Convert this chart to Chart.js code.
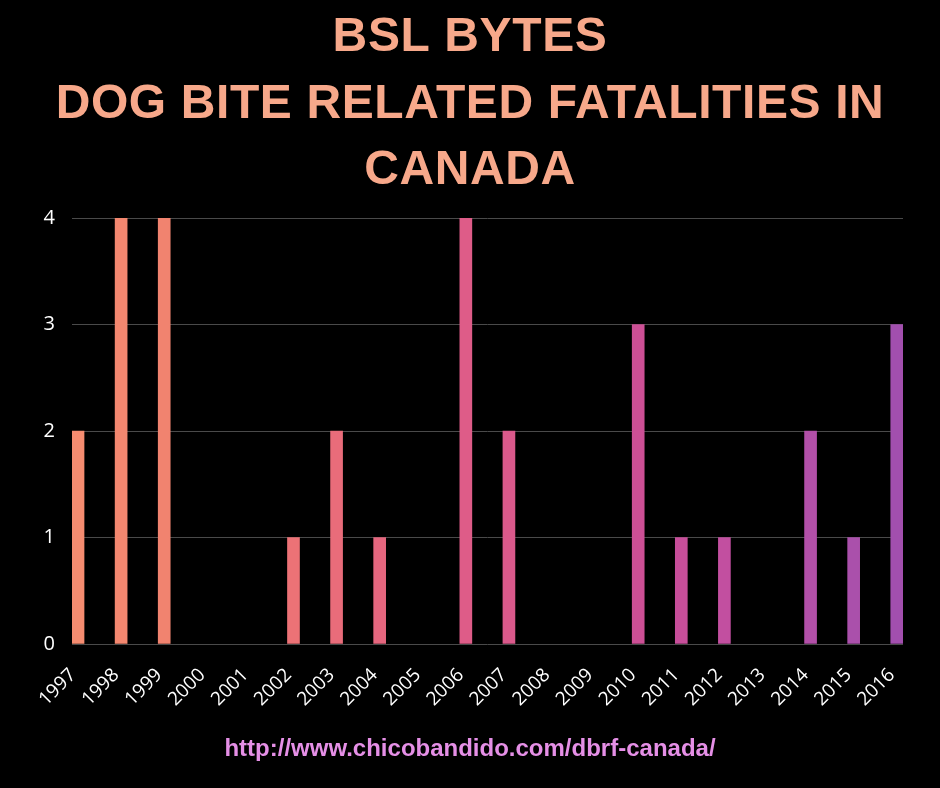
<!DOCTYPE html>
<html>
<head>
<meta charset="utf-8">
<script src="https://cdn.jsdelivr.net/npm/chart.js@4.4.0/dist/chart.umd.min.js"></script>
<style>
  html, body { margin: 0; padding: 0; background: #000; }
  #wrap { width: 940px; height: 788px; }
</style>
</head>
<body>
<div id="wrap"><canvas id="myChart" width="940" height="788"></canvas></div>
<script>
// data
const years = [1997, 1998, 1999, 2000, 2001, 2002, 2003, 2004, 2005, 2006,
               2007, 2008, 2009, 2010, 2011, 2012, 2013, 2014, 2015, 2016];
const fatalities = [2, 4, 4, 0, 0, 1, 2, 1, 0, 4, 2, 0, 0, 3, 1, 1, 0, 2, 1, 3];
const yTicks = [0, 1, 2, 3, 4];

const titleLines = ['BSL BYTES', 'DOG BITE RELATED FATALITIES IN', 'CANADA'];
const sourceUrl = 'http://www.chicobandido.com/dbrf-canada/';

// bar colours, salmon to purple
const barColors = [
    '#F58C70', '#F3876F', '#F1836F', '#EF7F71', '#EE7A73',
    '#EC7276', '#E96C7A', '#E5667E', '#E26283', '#DE5C88',
    '#DA598B', '#D6568E', '#D15391', '#CC4F95', '#C74E9A',
    '#C24FA0', '#BA4FA4', '#B24FA8', '#AA50AB', '#A24FAE'
];

const points = years.map((y, i) => ({ x: y, y: fatalities[i] }));

// title on top and link at the bottom, centred on the whole canvas
const textPlugin = {
    id: 'pageText',
    afterDraw(chart) {
        const c = chart.ctx;
        const mid = chart.width / 2;
        c.save();
        c.textAlign = 'center';
        c.textBaseline = 'alphabetic';
        c.fillStyle = '#F7A88A';
        c.font = "bold 48px 'Liberation Sans', Arial, sans-serif";
        c.letterSpacing = '0.6px';
        titleLines.forEach((t, i) => {
            c.fillText(t, mid, 51 + i * 66.5);
        });
        c.letterSpacing = '0px';
        c.fillStyle = '#E58FE6';
        c.font = "bold 24px 'Liberation Sans', Arial, sans-serif";
        c.fillText(sourceUrl, mid, 756);
        c.restore();
    }
};

const ctx = document.getElementById('myChart').getContext('2d');
const myChart = new Chart(ctx, {
    type: 'bar',
    data: {
        datasets: [{
            label: 'Fatalities',
            data: points,
            backgroundColor: (c) => (c.raw && c.raw.y === 0) ? 'rgba(0,0,0,0)' : barColors[c.dataIndex],
            borderWidth: 0,
            barThickness: 12
        }]
    },
    plugins: [textPlugin],
    options: {
        responsive: false,
        animation: false,
        layout: { padding: { left: 0, right: 37, top: 218, bottom: 59 } },
        plugins: {
            legend: { display: false },
            tooltip: { enabled: false },
            title: { display: false }
        },
        scales: {
            x: {
                type: 'linear',
                min: 1996.86,
                max: 2016.145,
                offset: false,
                grid: { display: false },
                border: { display: false },
                ticks: {
                    stepSize: 1,
                    includeBounds: false,
                    autoSkip: false,
                    maxRotation: 45,
                    minRotation: 45,
                    padding: 12,
                    labelOffset: -5,
                    color: '#ffffff',
                    font: { family: "'Open Sans', sans-serif", size: 19 },
                    callback: (v) => String(v)
                },
                afterFit: (axis) => { axis.height = 85; }
            },
            y: {
                min: 0,
                max: 4,
                grid: { color: '#4a4a4a', drawTicks: false, lineWidth: 1 },
                border: { display: false },
                afterBuildTicks: (axis) => { axis.ticks = yTicks.map(v => ({ value: v })); },
                ticks: {
                    padding: 17,
                    color: '#ffffff',
                    font: { family: "'Open Sans', sans-serif", size: 20 }
                },
                afterFit: (axis) => { axis.width = 72; }
            }
        }
    }
});
</script>
</body>
</html>
